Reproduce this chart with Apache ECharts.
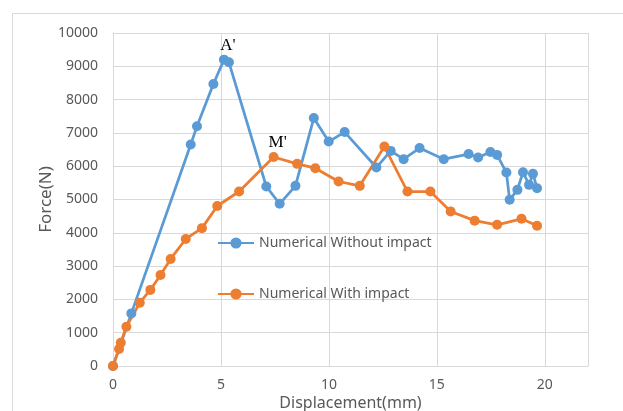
<!DOCTYPE html>
<html>
<head>
<meta charset="utf-8">
<script src="https://cdn.jsdelivr.net/npm/echarts@6/dist/echarts.min.js"></script>
<style>html,body{margin:0;padding:0;background:#fff}#c{width:623px;height:411px}</style>
</head>
<body>
<div id="c"></div>
<script>
const xTicks = [0, 5, 10, 15, 20];
const yTicks = [0, 1000, 2000, 3000, 4000, 5000, 6000, 7000, 8000, 9000, 10000];
const seriesNames = ['Numerical Without impact', 'Numerical With impact'];
const blueX = [0, 0.85, 3.60, 3.89, 4.65, 5.14, 5.37, 7.10, 7.72, 8.45, 9.30, 9.99, 10.73, 12.20, 12.86, 13.46, 14.20, 15.32, 16.47, 16.91, 17.48, 17.79, 18.22, 18.37, 18.73, 18.99, 19.27, 19.45, 19.64];
const blueY = [0, 1580, 6650, 7200, 8470, 9200, 9120, 5390, 4870, 5410, 7445, 6740, 7025, 5960, 6460, 6210, 6545, 6210, 6365, 6260, 6425, 6340, 5810, 4990, 5290, 5820, 5440, 5770, 5340];
const orangeX = [0, 0.28, 0.36, 0.62, 1.24, 1.73, 2.20, 2.67, 3.37, 4.12, 4.83, 5.84, 7.44, 8.53, 9.37, 10.45, 11.43, 12.57, 13.64, 14.70, 15.64, 16.75, 17.79, 18.92, 19.64];
const orangeY = [0, 510, 700, 1180, 1900, 2285, 2735, 3215, 3815, 4140, 4805, 5240, 6275, 6070, 5940, 5540, 5410, 6590, 5240, 5240, 4640, 4365, 4240, 4420, 4210];
const annotations = [{series: 0, index: 5, text: "A'"}, {series: 1, index: 12, text: "M'"}];

function build(xs, ys, sIdx) {
  return xs.map((x, i) => {
    const item = {value: [x, ys[i]]};
    const a = annotations.find(a => a.series === sIdx && a.index === i);
    if (a) {
      item.label = {show: true, position: 'top', distance: 1, offset: [4, 0], formatter: a.text,
        fontFamily: 'Liberation Serif', fontSize: 17, color: '#000'};
    }
    return item;
  });
}

const chart = echarts.init(document.getElementById('c'));
const axisText = {color: '#595959', fontFamily: 'Noto Sans', fontSize: 14};
chart.setOption({
  animation: false,
  backgroundColor: '#fff',
  graphic: [
    {type: 'line', shape: {x1: 12.5, y1: 13.5, x2: 623, y2: 13.5}, style: {stroke: '#d9d9d9', lineWidth: 1}},
    {type: 'line', shape: {x1: 12.5, y1: 13.5, x2: 12.5, y2: 411}, style: {stroke: '#d9d9d9', lineWidth: 1}}
  ],
  grid: {left: 113, right: 35, top: 33, bottom: 45, containLabel: false, outerBoundsMode: 'none'},
  legend: {
    orient: 'vertical', left: 212, top: 231, itemGap: 37, itemWidth: 36, itemHeight: 14,
    textStyle: {color: '#595959', fontFamily: 'Noto Sans', fontSize: 14},
    data: seriesNames
  },
  xAxis: {
    type: 'value', min: 0, max: 22, interval: 5,
    name: 'Displacement(mm)', nameLocation: 'middle', nameGap: 29, nameMoveOverlap: false,
    nameTextStyle: {color: '#595959', fontFamily: 'Noto Sans', fontSize: 16},
    axisLine: {show: true, lineStyle: {color: '#d9d9d9'}},
    axisTick: {show: false},
    axisLabel: Object.assign({margin: 12, showMaxLabel: false, formatter: v => String(v)}, axisText),
    splitLine: {show: true, lineStyle: {color: '#d9d9d9'}}
  },
  yAxis: {
    type: 'value', min: 0, max: 10000, interval: 1000,
    name: 'Force(N)', nameLocation: 'middle', nameGap: 58, nameMoveOverlap: false,
    nameTextStyle: {color: '#595959', fontFamily: 'Noto Sans', fontSize: 17},
    axisLine: {show: true, lineStyle: {color: '#d9d9d9'}},
    axisTick: {show: false},
    axisLabel: Object.assign({margin: 15, formatter: v => String(v)}, axisText),
    splitLine: {show: true, lineStyle: {color: '#d9d9d9'}}
  },
  series: [
    {name: seriesNames[0], type: 'line', data: build(blueX, blueY, 0), symbol: 'circle', symbolSize: 10,
     itemStyle: {color: '#5B9BD5'}, lineStyle: {color: '#5B9BD5', width: 2.75}},
    {name: seriesNames[1], type: 'line', data: build(orangeX, orangeY, 1), symbol: 'circle', symbolSize: 10,
     itemStyle: {color: '#ED7D31'}, lineStyle: {color: '#ED7D31', width: 2.75}}
  ]
});
</script>
</body>
</html>
